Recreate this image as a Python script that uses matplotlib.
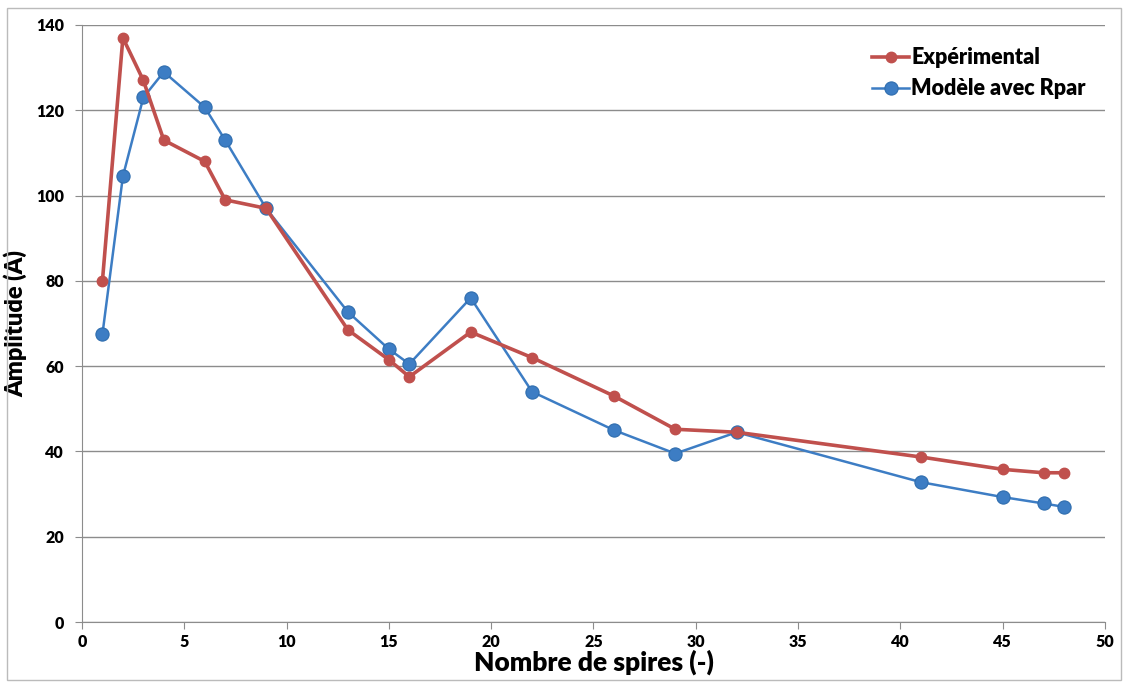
import matplotlib
matplotlib.use('Agg')
import matplotlib.pyplot as plt
from matplotlib.patches import Rectangle

plt.rcParams['font.family'] = ['Lato', 'DejaVu Sans']

# data
spires = [1, 2, 3, 4, 6, 7, 9, 13, 15, 16, 19, 22, 26, 29, 32, 41, 45, 47, 48]
experimental = [80, 137, 127, 113, 108, 99, 97, 68.5, 61.5, 57.5, 68, 62, 53, 45.2, 44.5, 38.7, 35.8, 35, 35]
modele = [67.5, 104.5, 123, 129, 120.7, 113, 97, 72.7, 64, 60.5, 76, 54, 45, 39.5, 44.5, 32.8, 29.3, 27.8, 27]
xticks = [0, 5, 10, 15, 20, 25, 30, 35, 40, 45, 50]
yticks = [0, 20, 40, 60, 80, 100, 120, 140]

red = '#C0504D'
blue = '#3D7DC4'

fig = plt.figure(figsize=(11.26, 6.83), dpi=100)
ax = fig.add_axes([0.0728, 0.0893, 0.9085, 0.8741])

ax.plot(spires, experimental, color=red, linewidth=2.6, marker='o', markersize=7.5,
        label='Expérimental', zorder=3)
ax.plot(spires, modele, color=blue, linewidth=1.8, marker='o', markersize=9.5,
        markeredgecolor='#2F6DAE', markeredgewidth=0.8, label='Modèle avec Rpar', zorder=2)

ax.set_xlim(0, 50)
ax.set_ylim(0, 140)
ax.set_xticks(xticks)
ax.set_yticks(yticks)
ax.grid(axis='y', color='#8C8C8C', linewidth=1)
ax.set_axisbelow(True)
for s in ['top', 'right']:
    ax.spines[s].set_visible(False)
for s in ['left', 'bottom']:
    ax.spines[s].set_color('#8C8C8C')
ax.tick_params(colors='#8C8C8C', length=5, labelcolor='black', labelsize=11.5)
ax.tick_params(axis='y', pad=8)
for lab in ax.get_xticklabels() + ax.get_yticklabels():
    lab.set_fontweight('heavy')

ax.set_xlabel('Nombre de spires (-)', fontsize=19, fontweight='heavy', labelpad=0)
ax.set_ylabel('Amplitude (A)', fontsize=17, fontweight='heavy')
ax.yaxis.set_label_coords(-0.053, 0.5)

leg = ax.legend(loc='upper right', bbox_to_anchor=(1.0, 0.995), frameon=False,
                prop={'weight': 'heavy', 'size': 15.5}, handlelength=1.7,
                handletextpad=0.1, labelspacing=0.45)

fig.patches.append(Rectangle((0.006, 0.004), 0.99, 0.985, transform=fig.transFigure,
                             fill=False, edgecolor='#BBBBBB', linewidth=1))

plt.savefig('out.png', dpi=100)
